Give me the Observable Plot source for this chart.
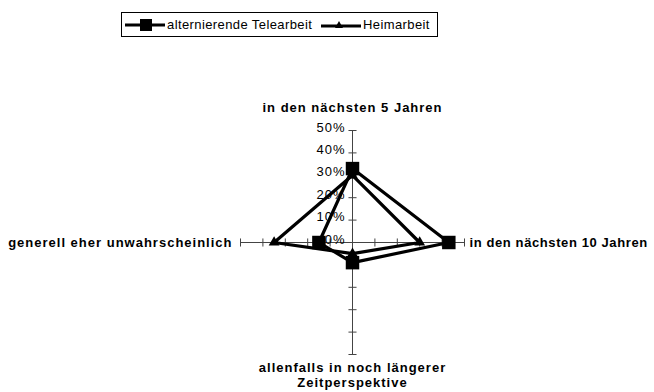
<!DOCTYPE html>
<html>
<head>
<meta charset="utf-8">
<script src="https://cdn.jsdelivr.net/npm/d3@7"></script>
<script src="https://cdn.jsdelivr.net/npm/@observablehq/plot@0.6"></script>
<style>
  html, body { margin: 0; padding: 0; background: #fff; }
  #wrap { position: relative; width: 654px; height: 392px; font-family: "Liberation Sans", Arial, sans-serif; }
  #legend { position: absolute; left: 121px; top: 12px; width: 317px; height: 25px; border: 1px solid #000; box-sizing: border-box;
            font-size: 13px; color: #000; letter-spacing: 0.4px; }
  #legend .item { position: absolute; top: 0; height: 23px; display: flex; align-items: center; }
  #legend .item svg { margin-right: 2px; }
  #chart { position: absolute; left: 0; top: 0; }
</style>
</head>
<body>
<div id="wrap">
  <div id="chart"></div>
  <div id="legend"></div>
</div>
<script>
// categories (clockwise from top)
const categories = [
  "in den nächsten 5 Jahren",
  "in den nächsten 10 Jahren",
  "allenfalls in noch längerer\nZeitperspektive",
  "generell eher unwahrscheinlich"
];
const angles = [90, 0, -90, 180];
const seriesNames = ["alternierende Telearbeit", "Heimarbeit"];
const teleValues = [33, 43, 9, 15];
const heimValues = [30, 30, 5, 35];
const tickValues = [0, 10, 20, 30, 40, 50];
const tickLabels = ["0%", "10%", "20%", "30%", "40%", "50%"];
const maxValue = 50;

const rad = a => a * Math.PI / 180;
function toPoints(values, name) {
  return values.map((v, i) => ({series: name, v, x: v * Math.cos(rad(angles[i])), y: v * Math.sin(rad(angles[i]))}));
}
const telePts = toPoints(teleValues, seriesNames[0]);
const heimPts = toPoints(heimValues, seriesNames[1]);
const closed = pts => [...pts, pts[0]];

const axes = angles.map(a => ({x1: 0, y1: 0, x2: maxValue * Math.cos(rad(a)), y2: maxValue * Math.sin(rad(a))}));
const tickHalf = 1.8;
const tickMarks = [];
angles.forEach(a => {
  tickValues.forEach(t => {
    const cx = t * Math.round(Math.cos(rad(a))), cy = t * Math.round(Math.sin(rad(a)));
    const vertical = Math.abs(Math.sin(rad(a))) > 0.5;
    tickMarks.push(vertical ? {x1: cx - tickHalf, x2: cx + tickHalf, y1: cy, y2: cy} : {x1: cx, x2: cx, y1: cy - tickHalf, y2: cy + tickHalf});
  });
});
const catLabels = categories.map((c, i) => ({text: c, x: maxValue * Math.round(Math.cos(rad(angles[i]))), y: maxValue * Math.round(Math.sin(rad(angles[i]))), i}));

const pxPerUnit = 2.24;
const cx0 = 352, cy0 = 242;
const W = 654, H = 392;

const chart = Plot.plot({
  width: W, height: H, margin: 0,
  style: {fontFamily: "'Liberation Sans', Arial, sans-serif", background: "transparent", letterSpacing: "1px"},
  x: {domain: [-cx0 / pxPerUnit, (W - cx0) / pxPerUnit], range: [0, W], axis: null},
  y: {domain: [-(H - cy0) / pxPerUnit, cy0 / pxPerUnit], range: [H, 0], axis: null},
  marks: [
    Plot.link(axes, {x1: "x1", y1: "y1", x2: "x2", y2: "y2", stroke: "#444", strokeWidth: 1}),
    Plot.link(tickMarks, {x1: "x1", y1: "y1", x2: "x2", y2: "y2", stroke: "#444", strokeWidth: 1}),
    Plot.text(tickValues, {x: () => 0, y: d => d, text: (d, i) => tickLabels[i], textAnchor: "end", dx: -7, dy: -3, fontSize: 13, fill: "#000"}),
    Plot.line(closed(telePts), {x: "x", y: "y", stroke: "#000", strokeWidth: 3.2, curve: "linear"}),
    Plot.line(closed(heimPts), {x: "x", y: "y", stroke: "#000", strokeWidth: 3.2, curve: "linear"}),
    Plot.dot(heimPts, {x: "x", y: "y", symbol: "triangle", r: 4, fill: "#000"}),
    Plot.dot(telePts, {x: "x", y: "y", symbol: "square", r: 7.6, fill: "#000"}),
    Plot.text(catLabels.filter(d => d.i === 0), {x: "x", y: "y", text: "text", dy: -23, fontWeight: "bold", fontSize: 13, fill: "#000"}),
    Plot.text(catLabels.filter(d => d.i === 1), {x: "x", y: "y", text: "text", dx: 5, textAnchor: "start", fontWeight: "bold", fontSize: 13, fill: "#000", className: "rightlabel"}),
    Plot.text(catLabels.filter(d => d.i === 2), {x: "x", y: "y", text: "text", dy: 6, lineAnchor: "top", lineHeight: 1.2, fontWeight: "bold", fontSize: 13, fill: "#000"}),
    Plot.text(catLabels.filter(d => d.i === 3), {x: "x", y: "y", text: "text", dx: -8, textAnchor: "end", fontWeight: "bold", fontSize: 13, fill: "#000"})
  ]
});
// tighter spacing for the right-hand label so it fits the frame
d3.select(chart).selectAll("text").filter(function() { return this.textContent.includes("10 Jahren"); }).style("letter-spacing", "0.6px");
document.getElementById("chart").appendChild(chart);

// legend
const legend = document.getElementById("legend");
const sym = [
  '<svg width="40" height="14"><line x1="0" y1="7" x2="40" y2="7" stroke="#000" stroke-width="3"/><rect x="15" y="1" width="12" height="12" fill="#000"/></svg>',
  '<svg width="40" height="14"><line x1="0" y1="8" x2="40" y2="8" stroke="#000" stroke-width="3"/><path d="M14,10 L18,3 L22,10 Z" fill="#000"/></svg>'
];
const itemLeft = [3, 199];
seriesNames.forEach((n, i) => {
  const it = document.createElement("div");
  it.className = "item";
  it.style.left = itemLeft[i] + "px";
  it.innerHTML = sym[i] + "<span>" + n + "</span>";
  legend.appendChild(it);
});
</script>
</body>
</html>
